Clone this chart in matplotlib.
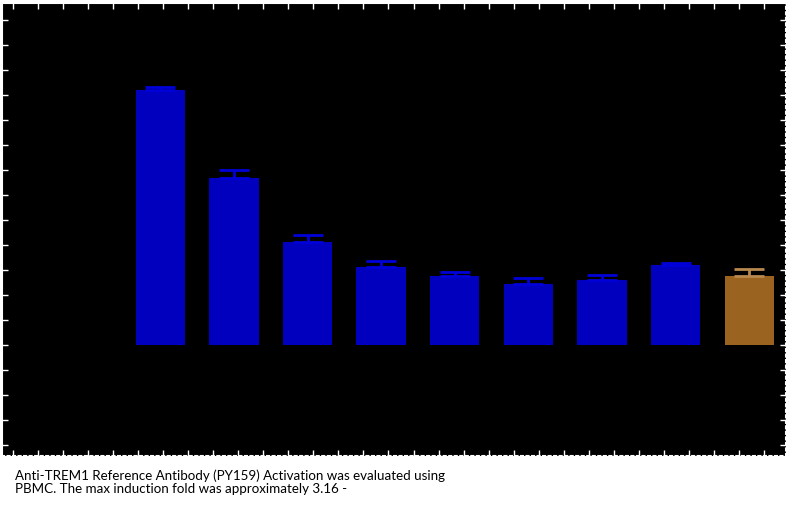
import numpy as np
import matplotlib.pyplot as plt

# bar values (arbitrary units, baseline = 0)
samples = ["S1", "S2", "S3", "S4", "S5", "S6", "S7", "S8", "Ctrl"]
values = [2.55, 1.67, 1.03, 0.78, 0.69, 0.61, 0.65, 0.80, 0.69]
errors = [0.03, 0.08, 0.07, 0.06, 0.04, 0.06, 0.05, 0.02, 0.07]
colors = ["#0000BE"] * 8 + ["#9A6420"]
err_colors = ["#0000D8"] * 8 + ["#B8894E"]

caption = ("Anti-TREM1 Reference Antibody (PY159) Activation was evaluated using\n"
           "PBMC. The max induction fold was approximately 3.16 -")

fig = plt.figure(figsize=(7.89, 5.08), dpi=100)
fig.patch.set_facecolor("white")
ax = fig.add_axes([2 / 789, 1 - 456 / 508, 784 / 789, 453 / 508])
ax.set_facecolor("black")

x = np.arange(len(samples))
ax.bar(x, values, width=0.67, color=colors, zorder=2)
for xi, v, e, c in zip(x, values, errors, err_colors):
    ax.errorbar(xi, v, yerr=[[0], [e]], fmt="none", ecolor=c,
                elinewidth=2, capsize=11, capthick=2, zorder=3)

ax.set_xlim(-2.15, 8.5)
ax.set_ylim(-1.11, 3.42)

# decorative tick marks, labels are invisible in the original
ax.set_yticks(np.arange(-1.0, 3.42, 0.25))
ax.set_xticks(np.arange(-2.0, 8.5, 0.34))
ax.set_xticklabels([])
ax.set_yticklabels([])
ax.tick_params(axis="both", which="both", direction="in", colors="white",
               length=4, width=1, top=True, right=True, bottom=True, left=True)

for side, sp in ax.spines.items():
    sp.set_color("white")
    sp.set_linewidth(1.5)
ax.spines["bottom"].set_linestyle(":")
ax.spines["right"].set_linestyle(":")

fig.text(15 / 789, 1 - 469 / 508, caption, ha="left", va="top",
         fontsize=9.6, family=["Lato", "DejaVu Sans"], color="black",
         linespacing=1.15)

plt.savefig("out.png", dpi=100, facecolor=fig.get_facecolor())
